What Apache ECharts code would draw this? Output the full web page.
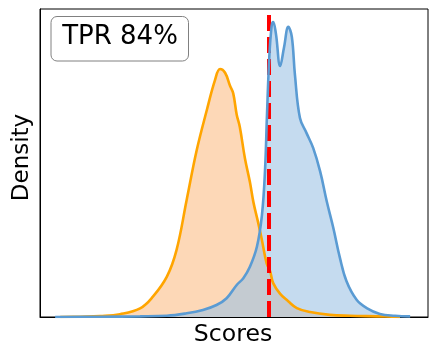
<!DOCTYPE html>
<html>
<head>
<meta charset="utf-8">
<script src="https://cdn.jsdelivr.net/npm/echarts@6/dist/echarts.min.js"></script>
<style>
  html, body { margin: 0; padding: 0; background: #fff; }
  #chart { width: 437px; height: 357px; }
</style>
</head>
<body>
<div id="chart"></div>
<script>
// scores (x) and density (y), normalised to the plot box
var scoresPos = [0.039, 0.155, 0.258, 0.327, 0.378, 0.420, 0.455, 0.481, 0.507, 0.524, 0.541, 0.559, 0.572, 0.580, 0.585, 0.591, 0.597, 0.601, 0.608, 0.619, 0.629, 0.640, 0.649, 0.657, 0.670, 0.687, 0.704, 0.722, 0.739, 0.756, 0.773, 0.790, 0.816, 0.842, 0.876, 0.915, 0.954];
var densityPos = [0.000, 0.001, 0.002, 0.004, 0.012, 0.023, 0.039, 0.061, 0.104, 0.126, 0.163, 0.228, 0.331, 0.477, 0.656, 0.845, 0.945, 0.958, 0.920, 0.815, 0.876, 0.942, 0.910, 0.787, 0.646, 0.597, 0.549, 0.473, 0.376, 0.289, 0.192, 0.116, 0.056, 0.029, 0.010, 0.004, 0.002];

var scoresNeg = [0.052, 0.103, 0.155, 0.206, 0.258, 0.291, 0.327, 0.352, 0.378, 0.404, 0.430, 0.451, 0.464, 0.477, 0.490, 0.498, 0.507, 0.515, 0.528, 0.541, 0.550, 0.562, 0.571, 0.584, 0.593, 0.601, 0.619, 0.639, 0.662, 0.696, 0.747, 0.799, 0.869, 0.928];
var densityNeg = [0.000, 0.001, 0.003, 0.009, 0.028, 0.066, 0.131, 0.218, 0.380, 0.542, 0.672, 0.769, 0.805, 0.793, 0.750, 0.726, 0.657, 0.617, 0.516, 0.438, 0.373, 0.308, 0.256, 0.175, 0.149, 0.110, 0.075, 0.052, 0.029, 0.016, 0.007, 0.004, 0.002, 0.000];

var threshold = 0.587;
var tprText = 'TPR 84%';

function pairs(xs, ys) {
  var out = [];
  for (var i = 0; i < xs.length; i++) out.push([xs[i], ys[i]]);
  return out;
}

var pos = pairs(scoresPos, densityPos);
var neg = pairs(scoresNeg, densityNeg);
var font = 'DejaVu Sans';

var myChart = echarts.init(document.getElementById('chart'));
var option = {
  animation: false,
  grid: {
    left: 40, top: 9, width: 388, height: 308,
    show: true, borderColor: '#000', borderWidth: 1
  },
  xAxis: {
    type: 'value', min: 0, max: 1,
    axisLine: { show: true, lineStyle: { color: '#000', width: 1 } },
    axisTick: { show: false }, axisLabel: { show: false },
    splitLine: { show: false }
  },
  yAxis: {
    type: 'value', min: 0, max: 1,
    axisLine: { show: true, lineStyle: { color: '#000', width: 1 } },
    axisTick: { show: false }, axisLabel: { show: false },
    splitLine: { show: false }
  },
  series: [
    {
      type: 'line', data: neg, smooth: 0.4, showSymbol: false, z: 1,
      lineStyle: { width: 0 },
      areaStyle: { color: '#FDD8B7', opacity: 1 }
    },
    {
      type: 'line', data: pos, smooth: 0.4, showSymbol: false, z: 2,
      lineStyle: { width: 0 },
      areaStyle: { color: 'rgba(155,193,227,0.58)', opacity: 1 }
    },
    {
      // threshold line sits between the fills and the curves
      type: 'line', data: [], z: 3,
      markLine: {
        silent: true, symbol: 'none', animation: false,
        label: { show: false },
        lineStyle: { color: '#FF0000', width: 4, type: [16, 6], dashOffset: 0 },
        data: [{ xAxis: threshold }]
      }
    },
    {
      type: 'line', data: neg, smooth: 0.4, showSymbol: false, z: 4,
      lineStyle: { color: '#FFA500', width: 2.6 }
    },
    {
      type: 'line', data: pos, smooth: 0.4, showSymbol: false, z: 5,
      lineStyle: { color: '#5A9BD3', width: 2.6 }
    }
  ],
  graphic: [
    {
      type: 'rect', z: 100,
      shape: { x: 51, y: 16.5, width: 137.5, height: 44.5, r: 6 },
      style: { fill: '#fff', stroke: '#808080', lineWidth: 1 }
    },
    {
      type: 'text', z: 101, x: 120, y: 37,
      style: { text: tprText, font: '26px "' + font + '"', fill: '#000', textAlign: 'center', textVerticalAlign: 'middle' }
    },
    {
      type: 'text', x: 233, y: 335,
      style: { text: 'Scores', font: '23.6px "' + font + '"', fill: '#000', textAlign: 'center', textVerticalAlign: 'middle' }
    },
    {
      type: 'text', x: 22, y: 157.5, rotation: Math.PI / 2,
      style: { text: 'Density', font: '23px "' + font + '"', fill: '#000', textAlign: 'center', textVerticalAlign: 'middle' }
    }
  ]
};
myChart.clear();
myChart.setOption(option);
</script>
</body>
</html>
